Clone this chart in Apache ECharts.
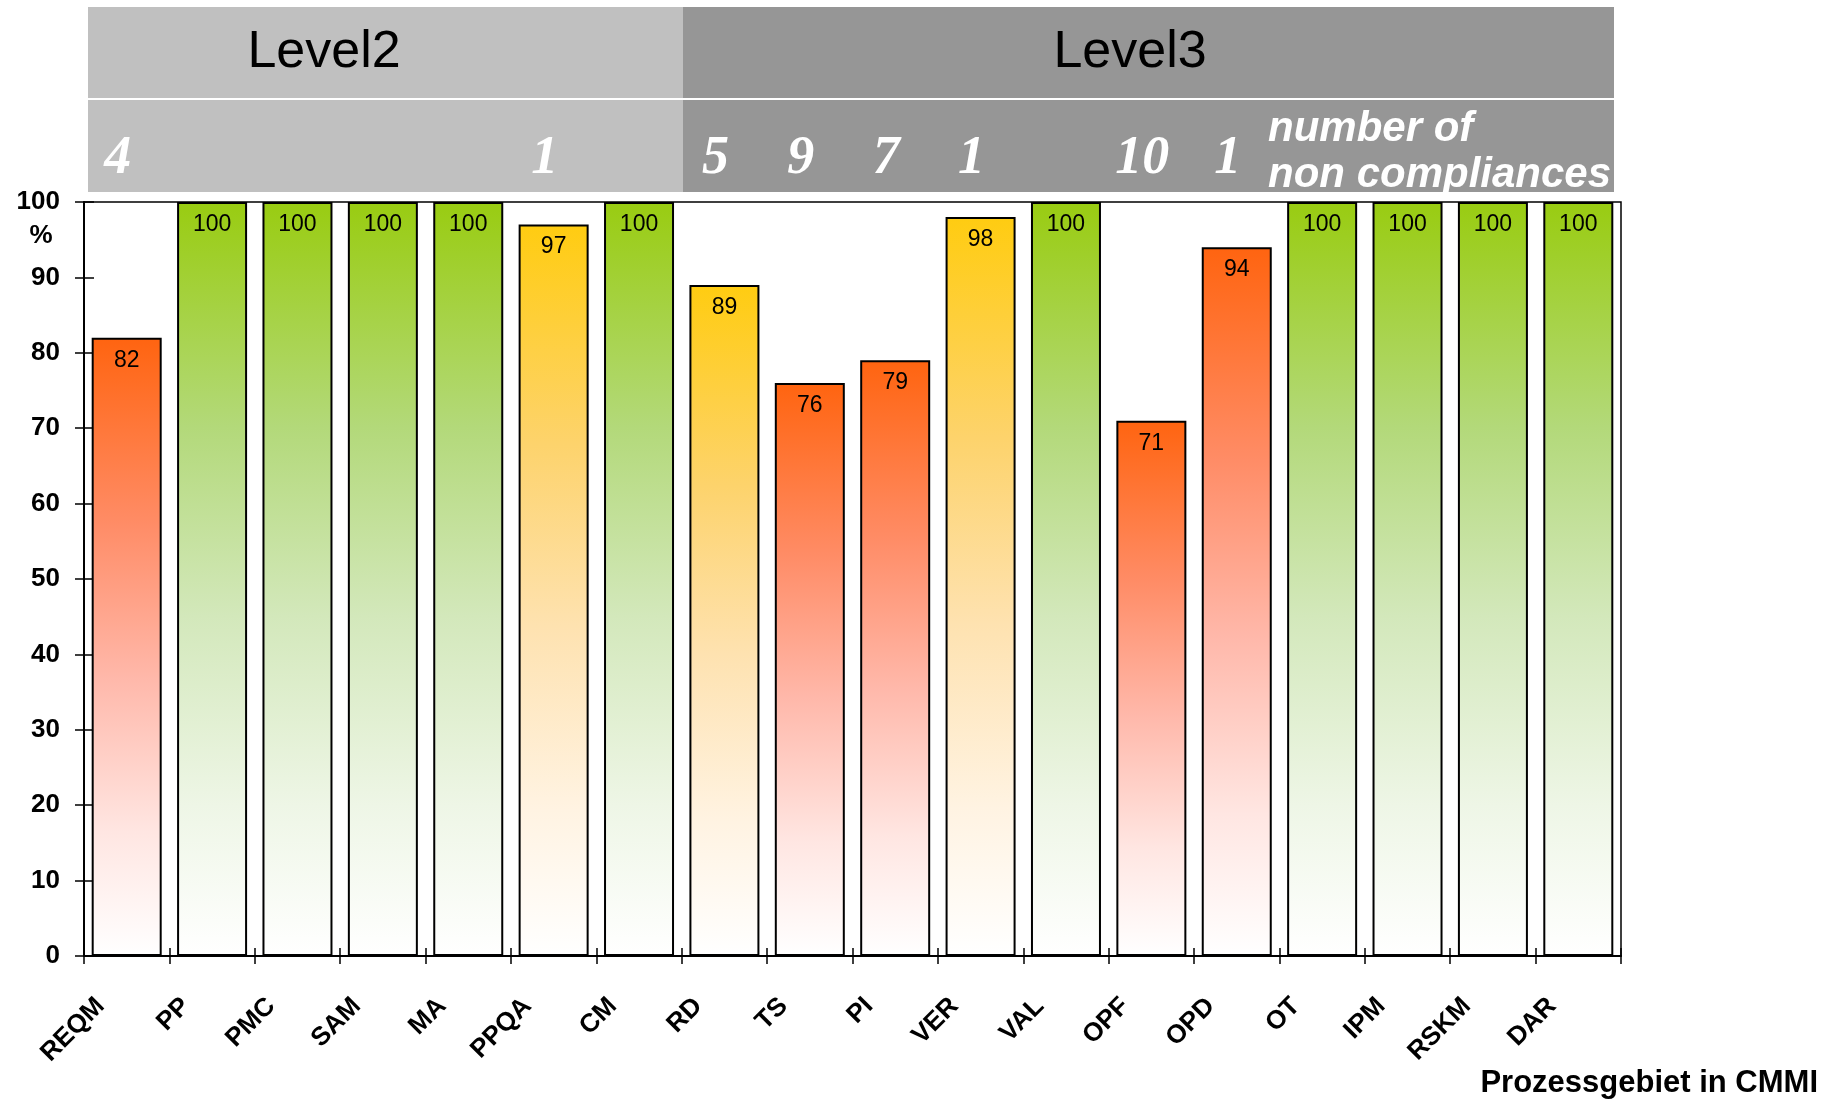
<!DOCTYPE html>
<html>
<head>
<meta charset="utf-8">
<script src="https://cdn.jsdelivr.net/npm/echarts@6/dist/echarts.min.js"></script>
<style>
  html, body { margin: 0; padding: 0; background: #ffffff; }
  #chart { width: 1821px; height: 1104px; }
</style>
</head>
<body>
<div id="chart"></div>
<script>
// CMMI process areas and their degree of fulfilment (%)
const categories = ['REQM', 'PP', 'PMC', 'SAM', 'MA', 'PPQA', 'CM', 'RD', 'TS', 'PI',
                    'VER', 'VAL', 'OPF', 'OPD', 'OT', 'IPM', 'RSKM', 'DAR'];
const compliance = [82, 100, 100, 100, 100, 97, 100, 89, 76, 79, 98, 100, 71, 94, 100, 100, 100, 100];
// traffic-light rating per process area
const rating = ['red', 'green', 'green', 'green', 'green', 'yellow', 'green', 'yellow', 'red', 'red',
                'yellow', 'green', 'red', 'red', 'green', 'green', 'green', 'green'];
// number of non compliances found per process area (null = none)
const nonCompliances = [4, null, null, null, null, 1, null, 5, 9, 7, 1, null, 10, 1, null, null, null, null];
// maturity level bands
const levelNames = ['Level2', 'Level3'];

const gradientStops = {
  green:  [[0, '#99CC11'], [0.3, '#B3D97A'], [0.55, '#D3E8BB'], [0.8, '#EEF6E6'], [1, '#FFFFFF']],
  yellow: [[0, '#FFCC11'], [0.3, '#FDD36C'], [0.55, '#FEE2B0'], [0.8, '#FFF3E2'], [1, '#FFFFFF']],
  red:    [[0, '#FF6410'], [0.3, '#FF8C66'], [0.55, '#FFB8AA'], [0.8, '#FFE6E2'], [1, '#FFFFFF']]
};
function fillFor(r) {
  return new echarts.graphic.LinearGradient(0, 0, 0, 1,
    gradientStops[r].map(s => ({ offset: s[0], color: s[1] })));
}

const boldSans = { fontFamily: 'Liberation Sans', fontWeight: 'bold', color: '#000' };
const tickStyle = { color: '#000', width: 1.5 };

const chart = echarts.init(document.getElementById('chart'), null, { renderer: 'canvas' });

chart.setOption({
  backgroundColor: '#ffffff',
  animation: false,
  grid: {
    left: 84, right: 200, top: 202, bottom: 148,
    show: true, borderColor: '#000', borderWidth: 1.5,
    outerBoundsMode: 'none'
  },
  xAxis: [
    {
      type: 'category', data: categories, position: 'bottom',
      axisLine: { show: true, lineStyle: { color: '#000', width: 2 } },
      axisTick: { show: true, length: 8, lineStyle: tickStyle },
      axisLabel: Object.assign({
        interval: 0, rotate: 45, margin: 20, padding: [0, 37, 0, 0], fontSize: 26
      }, boldSans),
      splitLine: { show: false }
    },
    {
      type: 'category', data: categories, position: 'bottom',
      axisLine: { show: false },
      axisTick: { show: true, inside: true, length: 8, lineStyle: tickStyle },
      axisLabel: { show: false },
      splitLine: { show: false }
    },
    {
      type: 'category', data: categories, position: 'top', z: 10,
      axisLine: { show: false },
      axisTick: { show: false },
      axisLabel: {
        interval: 0, margin: 43, verticalAlign: 'middle', padding: [0, 18, 0, 0],
        fontFamily: 'Liberation Serif', fontStyle: 'italic', fontWeight: 'bold',
        fontSize: 54, color: '#ffffff',
        formatter: (v, i) => (nonCompliances[i] == null ? '' : String(nonCompliances[i]))
      },
      splitLine: { show: false }
    }
  ],
  yAxis: [
    {
      type: 'value', min: 0, max: 100, interval: 10, position: 'left',
      axisLine: { show: true, lineStyle: { color: '#000', width: 2 } },
      axisTick: { show: true, length: 9, lineStyle: tickStyle },
      axisLabel: Object.assign({ margin: 24, fontSize: 26 }, boldSans),
      splitLine: { show: false }
    },
    {
      type: 'value', min: 0, max: 100, interval: 10, position: 'left',
      axisLine: { show: false },
      axisTick: { show: true, inside: true, length: 10, lineStyle: tickStyle },
      axisLabel: { show: false },
      splitLine: { show: false }
    }
  ],
  series: [
    {
      type: 'bar', xAxisIndex: 0, yAxisIndex: 0, barWidth: 70,
      data: compliance.map((v, i) => ({ value: v, itemStyle: { color: fillFor(rating[i]) } })),
      itemStyle: { borderColor: '#000', borderWidth: 2 },
      label: {
        show: true, position: 'insideTop', distance: 11,
        fontFamily: 'Liberation Sans', fontSize: 23, color: '#000'
      },
      z: 2
    }
  ],
  graphic: [
    // level header bands
    { type: 'rect', z: 1, shape: { x: 88, y: 7, width: 595, height: 91 }, style: { fill: '#C0C0C0' } },
    { type: 'rect', z: 1, shape: { x: 683, y: 7, width: 931, height: 91 }, style: { fill: '#969696' } },
    { type: 'rect', z: 1, shape: { x: 88, y: 100, width: 595, height: 92 }, style: { fill: '#C0C0C0' } },
    { type: 'rect', z: 1, shape: { x: 683, y: 100, width: 931, height: 92 }, style: { fill: '#969696' } },
    { type: 'text', z: 2, x: 324, y: 53, style: {
        text: levelNames[0], fill: '#000', font: '52px "Liberation Sans"',
        align: 'center', verticalAlign: 'middle' } },
    { type: 'text', z: 2, x: 1130, y: 53, style: {
        text: levelNames[1], fill: '#000', font: '52px "Liberation Sans"',
        align: 'center', verticalAlign: 'middle' } },
    { type: 'text', z: 2, x: 1268, y: 106, style: {
        text: 'number of\nnon compliances', fill: '#ffffff',
        font: 'italic bold 42px "Liberation Sans"', lineHeight: 46,
        align: 'left', verticalAlign: 'top' } },
    // unit under the top tick label
    { type: 'text', z: 2, x: 41, y: 236, style: {
        text: '%', fill: '#000', font: 'bold 26px "Liberation Sans"',
        align: 'center', verticalAlign: 'middle' } },
    // x axis title
    { type: 'text', z: 2, x: 1818, y: 1083, style: {
        text: 'Prozessgebiet in CMMI', fill: '#000', font: 'bold 31px "Liberation Sans"',
        align: 'right', verticalAlign: 'middle' } }
  ]
});
</script>
</body>
</html>
